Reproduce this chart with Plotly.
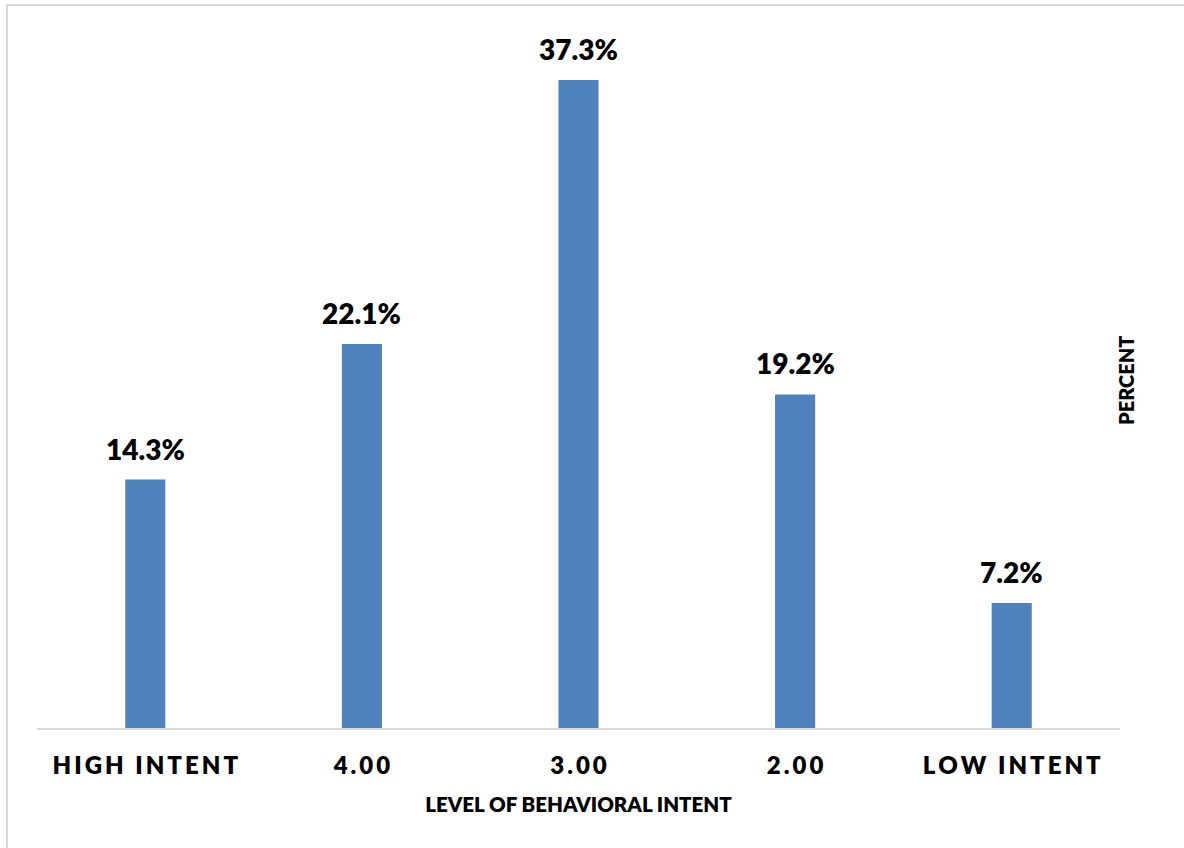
import plotly.graph_objects as go

# Share of respondents at each level of behavioral intent
categories = ["HIGH INTENT", "4.00", "3.00", "2.00", "LOW INTENT"]
percent = [14.3, 22.1, 37.3, 19.2, 7.2]

BAR_COLOR = "#4f81bd"
GRID_GRAY = "#d9d9d9"
FONT = "Lato"

def spaced(label):
    # widen letter spacing of the category labels with thin spaces
    return "\u2009".join(label)

fig = go.Figure()
fig.add_trace(go.Bar(
    x=categories,
    y=percent,
    marker=dict(color=BAR_COLOR, line=dict(width=0)),
    width=0.185,
    hoverinfo="skip",
))

# value labels above each bar (category axis positions by index)
for i, val in enumerate(percent):
    fig.add_annotation(
        x=i, y=val, xref="x", yref="y",
        text=f"{val:.1f}%",
        showarrow=False, yanchor="bottom", yshift=12,
        font=dict(family=FONT, size=28, color="#000000", weight=800),
    )

fig.add_annotation(
    x=1.018, y=0.5, xref="paper", yref="paper",
    text="PERCENT", textangle=-90, showarrow=False,
    font=dict(family=FONT, size=20, color="#000000", weight=800),
)

# outer chart frame
fig.add_shape(type="rect", xref="paper", yref="paper",
              x0=-0.0277, x1=1.07, y0=-0.18, y1=1.0403,
              line=dict(color=GRID_GRAY, width=2), layer="below")

fig.update_layout(
    width=1184, height=848,
    margin=dict(l=37, r=64, t=33, b=120),
    paper_bgcolor="white", plot_bgcolor="white",
    showlegend=False,
    font=dict(family=FONT, color="#000000"),
    xaxis=dict(
        tickmode="array", tickvals=categories,
        ticktext=[spaced(c) for c in categories],
        tickfont=dict(family=FONT, size=24, color="#000000", weight=800),
        ticklabelstandoff=15,
        showline=True, linecolor=GRID_GRAY, linewidth=2,
        ticks="", showgrid=False, zeroline=False,
        title=dict(text="LEVEL OF BEHAVIORAL INTENT",
                   font=dict(family=FONT, size=20.5, color="#000000", weight=800),
                   standoff=20),
    ),
    yaxis=dict(range=[0, 40], visible=False, showgrid=False, zeroline=False),
)

fig.write_html("out.html")
